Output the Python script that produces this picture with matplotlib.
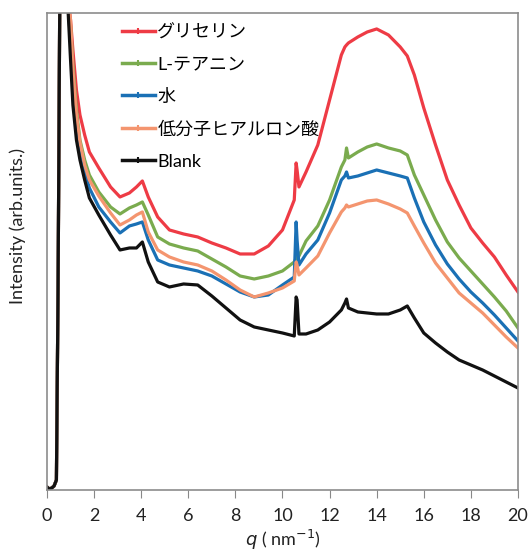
import numpy as np
import matplotlib
matplotlib.use('Agg')
import matplotlib.pyplot as plt
from matplotlib.lines import Line2D

plt.rcParams['font.family'] = ['Lato', 'Noto Sans CJK JP', 'DejaVu Sans']

# scattering vector q (nm^-1)
q = [0, 0.1, 0.2, 0.3, 0.4, 0.47, 0.55, 0.7, 0.9, 1.0, 1.1, 1.25, 1.4, 1.6, 1.8, 2.2,
     2.7, 3.1, 3.5, 3.8, 4.05, 4.3, 4.7, 5.2, 5.8, 6.4, 7.0, 7.6, 8.2, 8.8, 9.4, 10.0,
     10.5, 10.58, 10.62, 10.7, 11.0, 11.5, 12.0, 12.5, 12.65, 12.72, 12.8, 13.2, 13.6,
     14.0, 14.5, 15.0, 15.3, 15.6, 16.0, 16.5, 17.0, 17.5, 18.0, 18.5, 19.0, 19.5, 20.0]

# beam-stop region shared by all runs
low_q = [3, 1, 2, 4, 10, 200, 520, 640]

# intensity (arb. units)
glycerin = low_q + [490, 470, 440, 400, 375, 355, 338, 322,
                    303, 293, 297, 303, 309, 293, 273, 260, 256, 253,
                    247, 242, 236, 236, 244, 260, 290, 327, 320, 303,
                    318, 345, 390, 435, 443, 445, 447, 453, 458, 461,
                    455, 443, 434, 415, 382, 345, 310, 285, 262, 247,
                    233, 215, 198]
theanine = low_q + [485, 465, 425, 380, 350, 330, 315, 298,
                    283, 276, 282, 285, 288, 275, 253, 246, 242, 239,
                    231, 223, 214, 211, 214, 219, 228, 232, 235, 234,
                    249, 264, 290, 323, 330, 342, 332, 338, 343, 346,
                    342, 339, 335, 315, 295, 270, 248, 232, 219, 206,
                    193, 179, 162]
water = low_q + [482, 450, 405, 365, 340, 318, 302, 283,
                 268, 257, 264, 266, 268, 250, 230, 225, 222, 219,
                 214, 206, 198, 193, 195, 205, 213, 268, 250, 225,
                 236, 250, 277, 310, 314, 318, 312, 314, 317, 320,
                 317, 314, 312, 292, 268, 245, 226, 211, 198, 187,
                 175, 162, 149]
hyaluronic = low_q + [490, 470, 420, 375, 348, 325, 310, 294,
                      277, 265, 270, 275, 278, 258, 240, 233, 228, 225,
                      219, 210, 200, 193, 197, 202, 209, 228, 225, 215,
                      222, 234, 257, 278, 282, 285, 283, 286, 289, 290,
                      286, 281, 277, 264, 247, 227, 212, 197, 187, 177,
                      165, 153, 142]
blank = low_q + [477, 430, 385, 350, 330, 310, 292, 275,
                 255, 240, 242, 242, 248, 228, 208, 203, 206, 205,
                 194, 182, 170, 163, 160, 157, 154, 193, 190, 156,
                 156, 160, 168, 180, 187, 191, 182, 178, 177, 176,
                 176, 180, 184, 172, 157, 147, 138, 130, 125, 120,
                 114, 108, 102]

labels = ['グリセリン', 'L-テアニン', '水', '低分子ヒアルロン酸', 'Blank']
colors = ['#EE3B45', '#7AAB4E', '#1A70B5', '#F4956F', '#111111']
series = [glycerin, theanine, water, hyaluronic, blank]

fig = plt.figure(figsize=(5.28, 5.56), dpi=100)
ax = fig.add_axes([0.089, 0.1187, 0.892, 0.858])

for ys, c in zip(series, colors):
    ax.plot(q, ys, color=c, linewidth=2.3, solid_joinstyle='round')

ax.set_xlim(0, 20)
ax.set_ylim(0, 477)
ax.set_xticks(range(0, 21, 2))
ax.set_yticks([])
ax.tick_params(axis='x', direction='out', length=6, color='#888888', labelsize=13,
               labelcolor='#222222', pad=7)
for s in ax.spines.values():
    s.set_color('#8c8c8c')
    s.set_linewidth(1.2)

ax.set_xlabel(r'$q$ ( nm$^{-1}$)', fontsize=13, color='#222222', labelpad=3)
ax.set_ylabel('Intensity (arb.units.)', fontsize=13, color='#222222')
ax.yaxis.set_label_coords(-0.045, 0.553)

handles = [Line2D([], [], color=c, linewidth=2.5, marker='|', markersize=4,
                  markeredgewidth=1.5) for c in colors]
ax.legend(handles, labels, loc='upper left', bbox_to_anchor=(0.125, 1.011), frameon=False,
          fontsize=13, handlelength=1.8, handletextpad=0.15, labelspacing=0.9)

fig.savefig('out.png', dpi=100)
